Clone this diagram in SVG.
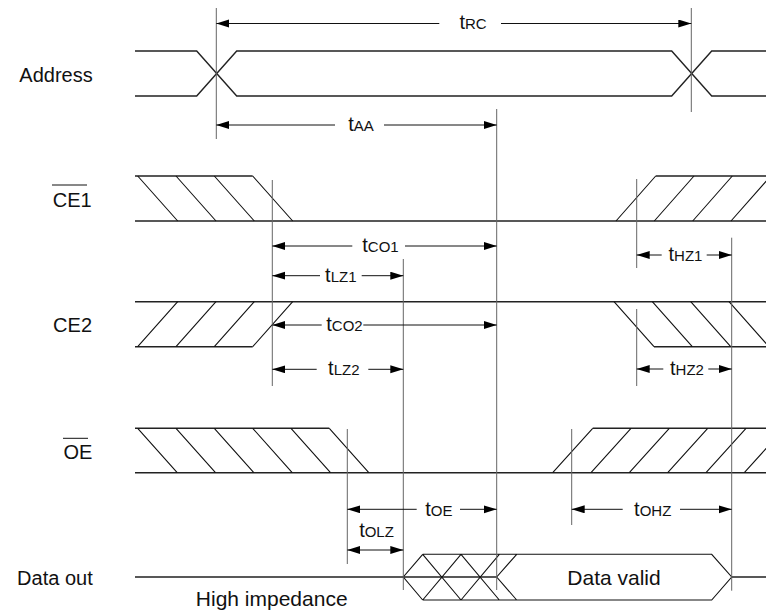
<svg xmlns="http://www.w3.org/2000/svg" width="766" height="614" viewBox="0 0 766 614">
<style>
.sig{fill:none;stroke:#222;stroke-width:1.4}
.hat{fill:none;stroke:#111;stroke-width:1.1}
.ref{fill:none;stroke:#666;stroke-width:1}
.arr{fill:none;stroke:#111;stroke-width:1}
.lbl{font-family:"Liberation Sans",Arial,sans-serif;font-size:20px;fill:#111}
.big{font-family:"Liberation Sans",Arial,sans-serif;font-size:21px;fill:#111}
.tl{font-family:"Liberation Sans",Arial,sans-serif;font-size:20px;fill:#111;text-anchor:middle}
.sub{font-size:15px}
.ovl{stroke:#111;stroke-width:1}
</style>
<defs>
<marker id="ah" markerUnits="userSpaceOnUse" markerWidth="14" markerHeight="9" refX="13" refY="4" orient="auto-start-reverse">
<path d="M0,0 L13,4 L0,8 z" fill="#000"/>
</marker>
</defs>
<rect width="766" height="614" fill="#fff"/>

<g id="address">
<path class="sig" d="M135,51 H196.7 L236.7,96 H671.7 L711.7,51 H766 M135,96 H196.7 L236.7,51 H671.7 L711.7,96 H766"/>
<text class="lbl" x="92.7" y="81.5" text-anchor="end">Address</text>
</g>

<g id="ce1">
<path class="sig" d="M135,176 H252.7 M135,221 H766 M655.7,176 H766"/>
<path class="hat" d="M137.7,176 L177.7,221 M176,176 L216,221 M214.3,176 L254.3,221 M252.7,176 L292.7,221 M616,221 L655.7,176 M654.3,221 L694,176 M692.7,221 L732.3,176 M731,221 L770.7,176"/>
<text class="lbl" x="91.7" y="206.5" text-anchor="end">CE1</text>
<line class="ovl" x1="52" y1="185" x2="87" y2="185"/>
</g>

<g id="ce2">
<path class="sig" d="M135,301.7 H766 M135,346.7 H252.7 M654,346.7 H766"/>
<path class="hat" d="M137.7,346.7 L177.7,301.7 M176,346.7 L216,301.7 M214.3,346.7 L254.3,301.7 M252.7,346.7 L292.7,301.7 M614,301.7 L654,346.7 M652.3,301.7 L692.3,346.7 M690.7,301.7 L730.7,346.7 M729,301.7 L769,346.7"/>
<text class="lbl" x="92" y="331.5" text-anchor="end">CE2</text>
</g>

<g id="oe">
<path class="sig" d="M135,428.3 H329.3 M135,472.7 H766 M592.7,428.3 H766"/>
<path class="hat" d="M137.7,428.3 L177.2,472.7 M176,428.3 L215.5,472.7 M214.3,428.3 L253.8,472.7 M252.7,428.3 L292.2,472.7 M291,428.3 L330.5,472.7 M329.3,428.3 L368.8,472.7 M552.7,472.7 L592.7,428.3 M591,472.7 L631,428.3 M629.3,472.7 L669.3,428.3 M667.7,472.7 L707.7,428.3 M706,472.7 L746,428.3 M744.3,472.7 L784.3,428.3"/>
<text class="lbl" x="92.3" y="458.5" text-anchor="end">OE</text>
<line class="ovl" x1="63" y1="438.3" x2="88" y2="438.3"/>
</g>

<g id="dataout">
<path class="sig" d="M135,577 H496.7 M731.7,577 H766"/>
<path class="hat" d="M422.7,554.3 L403.3,577 L422.7,600 M422.7,554.3 L461,600 M422.7,600 L461,554.3 M461,554.3 L499.3,600 M461,600 L499.3,554.3 M516.7,554.3 L496.7,577 L516.7,600 M422.7,554.3 H711.7 L731.7,577 L711.7,600 H422.7"/>
<text class="lbl" x="92.7" y="585" text-anchor="end">Data out</text>
<text class="big" x="614" y="585" text-anchor="middle">Data valid</text>
<text class="big" x="271.7" y="605.5" text-anchor="middle">High impedance</text>
</g>

<g id="connectors">
<path class="ref" d="M216.3,8 V139 M691.3,8 V112 M496.7,109 V590 M272.3,180 V386 M403.3,259 V590 M636.7,179 V268 M636.7,309 V386 M731.7,237.7 V590.7 M347.3,429 V564 M571.7,429 V525"/>
<!-- tRC -->
<line class="arr" x1="439.3" y1="23.5" x2="216.3" y2="23.5" marker-end="url(#ah)"/>
<line class="arr" x1="501" y1="23.5" x2="691.3" y2="23.5" marker-end="url(#ah)"/>
<text class="tl" x="473" y="29">t<tspan class="sub">RC</tspan></text>
<!-- tAA -->
<line class="arr" x1="335" y1="125" x2="216.3" y2="125" marker-end="url(#ah)"/>
<line class="arr" x1="384" y1="125" x2="496.7" y2="125" marker-end="url(#ah)"/>
<text class="tl" x="361" y="130.7">t<tspan class="sub">AA</tspan></text>
<!-- tCO1 -->
<line class="arr" x1="352.3" y1="246" x2="272.3" y2="246" marker-end="url(#ah)"/>
<line class="arr" x1="405" y1="246" x2="496.7" y2="246" marker-end="url(#ah)"/>
<text class="tl" x="380.5" y="252">t<tspan class="sub">CO1</tspan></text>
<!-- tLZ1 -->
<line class="arr" x1="320" y1="275.7" x2="272.3" y2="275.7" marker-end="url(#ah)"/>
<line class="arr" x1="361.7" y1="275.7" x2="403.3" y2="275.7" marker-end="url(#ah)"/>
<text class="tl" x="340.8" y="281.7">t<tspan class="sub">LZ1</tspan></text>
<!-- tHZ1 -->
<line class="arr" x1="661.7" y1="255" x2="636.7" y2="255" marker-end="url(#ah)"/>
<line class="arr" x1="706.7" y1="255" x2="731.7" y2="255" marker-end="url(#ah)"/>
<text class="tl" x="685.5" y="261">t<tspan class="sub">HZ1</tspan></text>
<!-- tCO2 -->
<line class="arr" x1="321.7" y1="325" x2="272.3" y2="325" marker-end="url(#ah)"/>
<line class="arr" x1="363.3" y1="325" x2="496.7" y2="325" marker-end="url(#ah)"/>
<text class="tl" x="344.5" y="331">t<tspan class="sub">CO2</tspan></text>
<!-- tLZ2 -->
<line class="arr" x1="316.7" y1="369.3" x2="272.3" y2="369.3" marker-end="url(#ah)"/>
<line class="arr" x1="368.3" y1="369.3" x2="403.3" y2="369.3" marker-end="url(#ah)"/>
<text class="tl" x="343.8" y="375.3">t<tspan class="sub">LZ2</tspan></text>
<!-- tHZ2 -->
<line class="arr" x1="663.3" y1="369" x2="636.7" y2="369" marker-end="url(#ah)"/>
<line class="arr" x1="708.3" y1="369" x2="731.7" y2="369" marker-end="url(#ah)"/>
<text class="tl" x="687" y="375">t<tspan class="sub">HZ2</tspan></text>
<!-- tOE -->
<line class="arr" x1="416.7" y1="509.3" x2="347.3" y2="509.3" marker-end="url(#ah)"/>
<line class="arr" x1="460" y1="509.3" x2="496.7" y2="509.3" marker-end="url(#ah)"/>
<text class="tl" x="438.8" y="515.8">t<tspan class="sub">OE</tspan></text>
<!-- tOHZ -->
<line class="arr" x1="622.7" y1="509.3" x2="571.7" y2="509.3" marker-end="url(#ah)"/>
<line class="arr" x1="680" y1="509.3" x2="731.7" y2="509.3" marker-end="url(#ah)"/>
<text class="tl" x="652.7" y="515.8">t<tspan class="sub">OHZ</tspan></text>
<!-- tOLZ -->
<line class="arr" x1="347.3" y1="550" x2="403.3" y2="550" marker-start="url(#ah)" marker-end="url(#ah)"/>
<text class="tl" x="376.5" y="537.3">t<tspan class="sub">OLZ</tspan></text>
</g>
</svg>
